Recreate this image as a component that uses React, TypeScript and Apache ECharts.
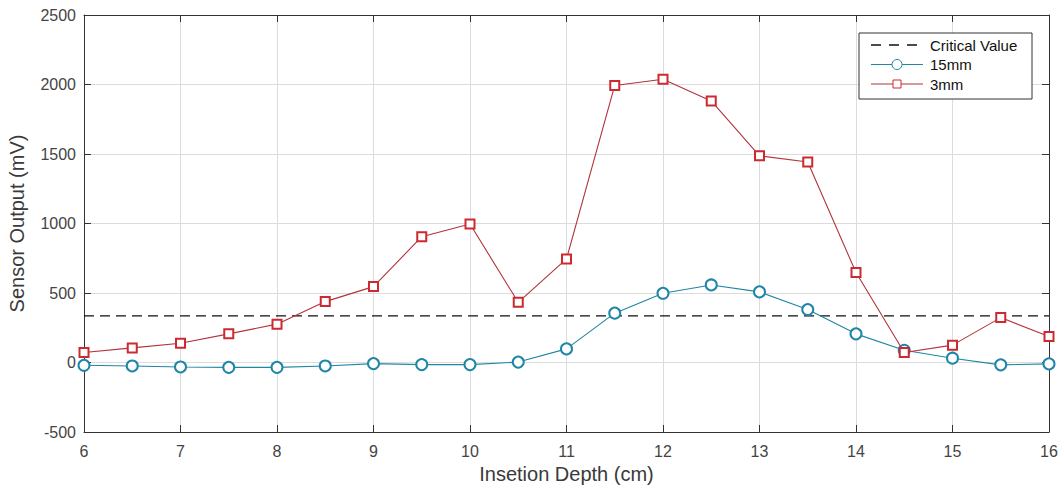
import React, { useEffect, useRef } from "react";
import * as echarts from "echarts";

const depths = [6, 6.5, 7, 7.5, 8, 8.5, 9, 9.5, 10, 10.5, 11, 11.5, 12, 12.5, 13, 13.5, 14, 14.5, 15, 15.5, 16];
const s15mm = [-20, -25, -32, -35, -35, -25, -8, -15, -15, 3, 98, 355, 498, 558, 508, 381, 206, 88, 31, -17, -10];
const s3mm = [72, 105, 139, 206, 276, 438, 546, 905, 996, 433, 745, 1993, 2038, 1882, 1487, 1442, 647, 72, 125, 323, 187];
const criticalValue = 335;
const xRange = [6, 16];
const yRange = [-500, 2500];
const legendNames = ["Critical Value", "15mm", "3mm"];

const BLUE = "#1f86a6";
const RED_LINE = "#b0343a";
const RED_MARK = "#cc2a30";

export default function App() {
  const ref = useRef<HTMLDivElement>(null);
  useEffect(() => {
    if (!ref.current) return;
    const chart = echarts.init(ref.current, undefined, { renderer: "svg" });
    const font = "Liberation Sans, Arial, sans-serif";
    const axisLine = { show: true, onZero: false, lineStyle: { color: "#333", width: 1 } };
    const tick = { show: true, inside: true, length: 7, lineStyle: { color: "#333" } };

    const lx = 859, ly = 33, lw = 173, lh = 66;
    const rowY = [45, 64.5, 84];
    const iconX0 = 871, iconX1 = 923, textX = 930;
    const legendGraphic: any[] = [
      {
        type: "rect",
        shape: { x: lx, y: ly, width: lw, height: lh },
        style: { fill: "#fff", stroke: "#333", lineWidth: 1 },
        z: 100,
      },
      {
        type: "line",
        shape: { x1: iconX0, y1: rowY[0], x2: iconX1, y2: rowY[0] },
        style: { stroke: "#111", lineWidth: 1.3, lineDash: [10, 8] },
        z: 101,
      },
      {
        type: "line",
        shape: { x1: iconX0, y1: rowY[1], x2: iconX1, y2: rowY[1] },
        style: { stroke: BLUE, lineWidth: 1.1 },
        z: 101,
      },
      {
        type: "circle",
        shape: { cx: (iconX0 + iconX1) / 2, cy: rowY[1], r: 5 },
        style: { fill: "#fff", stroke: BLUE, lineWidth: 1 },
        z: 102,
      },
      {
        type: "line",
        shape: { x1: iconX0, y1: rowY[2], x2: iconX1, y2: rowY[2] },
        style: { stroke: RED_LINE, lineWidth: 1.1 },
        z: 101,
      },
      {
        type: "rect",
        shape: { x: (iconX0 + iconX1) / 2 - 4, y: rowY[2] - 4, width: 8, height: 8 },
        style: { fill: "#fff", stroke: RED_MARK, lineWidth: 1 },
        z: 102,
      },
      ...legendNames.map((n, i) => ({
        type: "text",
        x: textX,
        y: rowY[i],
        style: {
          text: n,
          fontFamily: font,
          fontSize: 15,
          fill: "#111",
          textVerticalAlign: "middle",
          verticalAlign: "middle",
        },
        z: 103,
      })),
    ];

    chart.setOption({
      animation: false,
      backgroundColor: "#fff",
      grid: { left: 84, right: 12, top: 15, bottom: 56, containLabel: false, outerBoundsMode: "none" },
      xAxis: [
        {
          type: "value",
          min: xRange[0],
          max: xRange[1],
          interval: 1,
          name: "Insetion Depth (cm)",
          nameLocation: "middle",
          nameGap: 32,
          nameTextStyle: { fontFamily: font, fontSize: 20, color: "#3a3a3a" },
          axisLine,
          axisTick: tick,
          axisLabel: { fontFamily: font, fontSize: 16, color: "#444", margin: 11 },
          splitLine: { show: true, lineStyle: { color: "#dcdcdc", width: 1 } },
        },
        {
          type: "value",
          position: "top",
          min: xRange[0],
          max: xRange[1],
          interval: 1,
          axisLine,
          axisTick: tick,
          axisLabel: { show: false },
          splitLine: { show: false },
        },
      ],
      yAxis: [
        {
          type: "value",
          min: yRange[0],
          max: yRange[1],
          interval: 500,
          name: "Sensor Output (mV)",
          nameLocation: "middle",
          nameGap: 57,
          nameTextStyle: { fontFamily: font, fontSize: 20, color: "#3a3a3a" },
          axisLine,
          axisTick: tick,
          axisLabel: { fontFamily: font, fontSize: 16, color: "#444", margin: 8, formatter: (v: number) => String(v) },
          splitLine: { show: true, lineStyle: { color: "#dcdcdc", width: 1 } },
        },
        {
          type: "value",
          position: "right",
          min: yRange[0],
          max: yRange[1],
          interval: 500,
          axisLine,
          axisTick: tick,
          axisLabel: { show: false },
          splitLine: { show: false },
        },
      ],
      graphic: legendGraphic,
      series: [
        {
          name: legendNames[0],
          type: "line",
          data: [[xRange[0], criticalValue], [xRange[1], criticalValue]],
          symbol: "none",
          lineStyle: { color: "#111", width: 1.3, type: [10, 6] },
          itemStyle: { color: "#111" },
          z: 3,
        },
        {
          name: legendNames[1],
          type: "line",
          data: depths.map((d, i) => [d, s15mm[i]]),
          symbol: "emptyCircle",
          symbolSize: 11,
          lineStyle: { color: BLUE, width: 1.1 },
          itemStyle: { color: BLUE, borderWidth: 1 },
          z: 4,
        },
        {
          name: legendNames[2],
          type: "line",
          data: depths.map((d, i) => [d, s3mm[i]]),
          symbol: "emptyRect",
          symbolSize: 9,
          lineStyle: { color: RED_LINE, width: 1.1 },
          itemStyle: { color: RED_MARK, borderWidth: 1 },
          z: 5,
        },
      ],
    });
    return () => chart.dispose();
  }, []);
  return (
    <div
      ref={ref}
      style={{ position: "fixed", left: 0, top: 0, width: 1061, height: 488 }}
    />
  );
}
